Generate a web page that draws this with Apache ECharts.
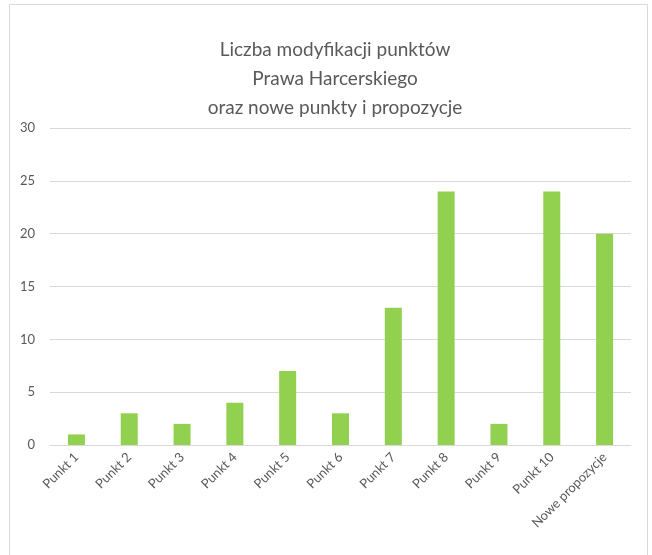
<!DOCTYPE html>
<html lang="pl">
<head>
    <meta charset="UTF-8">
    <title>Liczba modyfikacji punktów</title>
    <script type="text/javascript" src="https://cdn.jsdelivr.net/npm/echarts@6/dist/echarts.min.js"></script>
    <style>
        html, body { margin: 0; padding: 0; background: #fff; }
    </style>
</head>
<body>
<div id="chart" style="width: 652px;height: 555px"></div>
<script type="text/javascript">
    var categories = ['Punkt 1', 'Punkt 2', 'Punkt 3', 'Punkt 4', 'Punkt 5', 'Punkt 6',
        'Punkt 7', 'Punkt 8', 'Punkt 9', 'Punkt 10', 'Nowe propozycje'];
    var values = [1, 3, 2, 4, 7, 3, 13, 24, 2, 24, 20];
    var yTicks = [0, 5, 10, 15, 20, 25, 30];

    var textColor = '#595959';
    var fontName = 'Lato, "Open Sans", sans-serif';

    var myChart = echarts.init(document.getElementById('chart'));
    var option = {
        animation: false,
        textStyle: {fontFamily: fontName},
        graphic: [{
            type: 'rect',
            shape: {x: 9.5, y: 4.5, width: 638, height: 570},
            style: {fill: 'none', stroke: '#d9d9d9', lineWidth: 1},
            silent: true
        }],
        title: {
            text: 'Liczba modyfikacji punktów\nPrawa Harcerskiego\noraz nowe punkty i propozycje',
            left: 330,
            textAlign: 'center',
            top: 30,
            textStyle: {
                color: textColor,
                fontSize: 19,
                fontWeight: 'normal',
                lineHeight: 29,
                fontFamily: fontName
            }
        },
        grid: {left: 50, right: 21, top: 128, bottom: 110},
        xAxis: {
            type: 'category',
            data: categories,
            axisLine: {lineStyle: {color: '#d9d9d9'}},
            axisTick: {show: false},
            axisLabel: {
                rotate: 45,
                interval: 0,
                color: textColor,
                fontSize: 13,
                margin: 10
            }
        },
        yAxis: {
            type: 'value',
            min: yTicks[0],
            max: yTicks[yTicks.length - 1],
            interval: 5,
            axisLine: {show: false},
            axisTick: {show: false},
            axisLabel: {color: textColor, fontSize: 13, margin: 15},
            splitLine: {lineStyle: {color: '#d9d9d9'}}
        },
        series: [{
            type: 'bar',
            data: values,
            barWidth: 17,
            itemStyle: {color: '#92d050'}
        }]
    };
    myChart.setOption(option);
</script>
</body>
</html>
